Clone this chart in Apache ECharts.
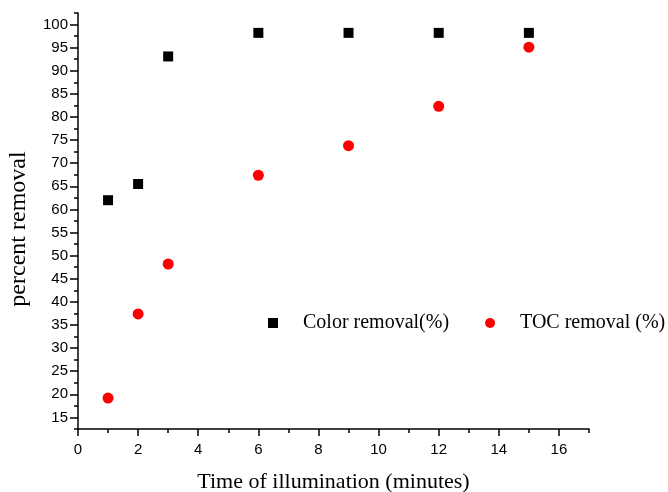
<!DOCTYPE html>
<html>
<head>
<meta charset="utf-8">
<script src="https://cdn.jsdelivr.net/npm/echarts@6/dist/echarts.min.js"></script>
<style>html,body{margin:0;padding:0;background:#fff}#c{width:668px;height:492px}</style>
</head>
<body>
<div id="c"></div>
<script>
const timeMinutes = [1, 2, 3, 6, 9, 12, 15];
const colorRemoval = [62.0, 65.5, 93.1, 98.2, 98.2, 98.2, 98.2];
const tocRemoval = [19.2, 37.4, 48.2, 67.4, 73.8, 82.3, 95.1];
const xMajorTicks = [0, 2, 4, 6, 8, 10, 12, 14, 16];
const xMinorTicks = [1, 3, 5, 7, 9, 11, 13, 15, 17];
const yMajorTicks = [15, 20, 25, 30, 35, 40, 45, 50, 55, 60, 65, 70, 75, 80, 85, 90, 95, 100];
const yMinorTicks = [12.5, 17.5, 22.5, 27.5, 32.5, 37.5, 42.5, 47.5, 52.5, 57.5, 62.5, 67.5, 72.5, 77.5, 82.5, 87.5, 92.5, 97.5, 102.5];
const seriesNames = ['Color removal(%)', 'TOC removal (%)'];

const chart = echarts.init(document.getElementById('c'));
const xRange = {min: 0, max: 17};
const yRange = {min: 12.5, max: 102.5};
const lineStyle = {color: '#000', width: 1.5};
const labelFont = {fontFamily: 'Liberation Sans', fontSize: 15, color: '#000'};
const serif = {fontFamily: 'Liberation Serif', color: '#000'};

chart.setOption({
  animation: false,
  backgroundColor: '#fff',
  grid: {left: 78, top: 13, right: 79, bottom: 63, containLabel: false, outerBoundsMode: 'none'},
  legend: {
    left: 268, top: 313, width: 400, padding: 0,
    orient: 'horizontal',
    itemWidth: 10, itemHeight: 10, itemGap: 36,
    textStyle: Object.assign({fontSize: 20, padding: [0, 0, 0, 20]}, serif),
    data: [
      {name: seriesNames[0], icon: 'rect', itemStyle: {opacity: 1}},
      {name: seriesNames[1], icon: 'circle', itemStyle: {opacity: 1}}
    ]
  },
  xAxis: [{
    type: 'value', min: xRange.min, max: xRange.max,
    name: 'Time of illumination (minutes)', nameLocation: 'middle', nameGap: 42,
    nameTextStyle: Object.assign({fontSize: 22}, serif),
    axisLine: {show: true, lineStyle: lineStyle},
    axisTick: {show: true, length: 7, lineStyle: lineStyle, customValues: xMajorTicks},
    axisLabel: Object.assign({margin: 13, customValues: xMajorTicks}, labelFont),
    splitLine: {show: false}
  }, {
    type: 'value', min: xRange.min, max: xRange.max, position: 'bottom',
    axisLine: {show: false},
    axisTick: {show: true, length: 4, lineStyle: lineStyle, customValues: xMinorTicks},
    axisLabel: {show: false}, splitLine: {show: false}
  }],
  yAxis: [{
    type: 'value', min: yRange.min, max: yRange.max,
    name: 'percent removal', nameLocation: 'middle', nameGap: 47,
    nameTextStyle: Object.assign({fontSize: 24, padding: [0, 16, 0, 0]}, serif),
    axisLine: {show: true, lineStyle: lineStyle},
    axisTick: {show: true, length: 8, lineStyle: lineStyle, customValues: yMajorTicks},
    axisLabel: Object.assign({margin: 10, customValues: yMajorTicks}, labelFont),
    splitLine: {show: false}
  }, {
    type: 'value', min: yRange.min, max: yRange.max, position: 'left',
    axisLine: {show: false},
    axisTick: {show: true, length: 4, lineStyle: lineStyle, customValues: yMinorTicks},
    axisLabel: {show: false}, splitLine: {show: false}
  }],
  series: [{
    name: seriesNames[0], type: 'scatter', symbol: 'rect', symbolSize: 10,
    itemStyle: {color: '#000', opacity: 1},
    data: timeMinutes.map((t, i) => [t, colorRemoval[i]])
  }, {
    name: seriesNames[1], type: 'scatter', symbol: 'circle', symbolSize: 11,
    itemStyle: {color: '#ff0000', opacity: 1},
    data: timeMinutes.map((t, i) => [t, tocRemoval[i]])
  }]
});
</script>
</body>
</html>
